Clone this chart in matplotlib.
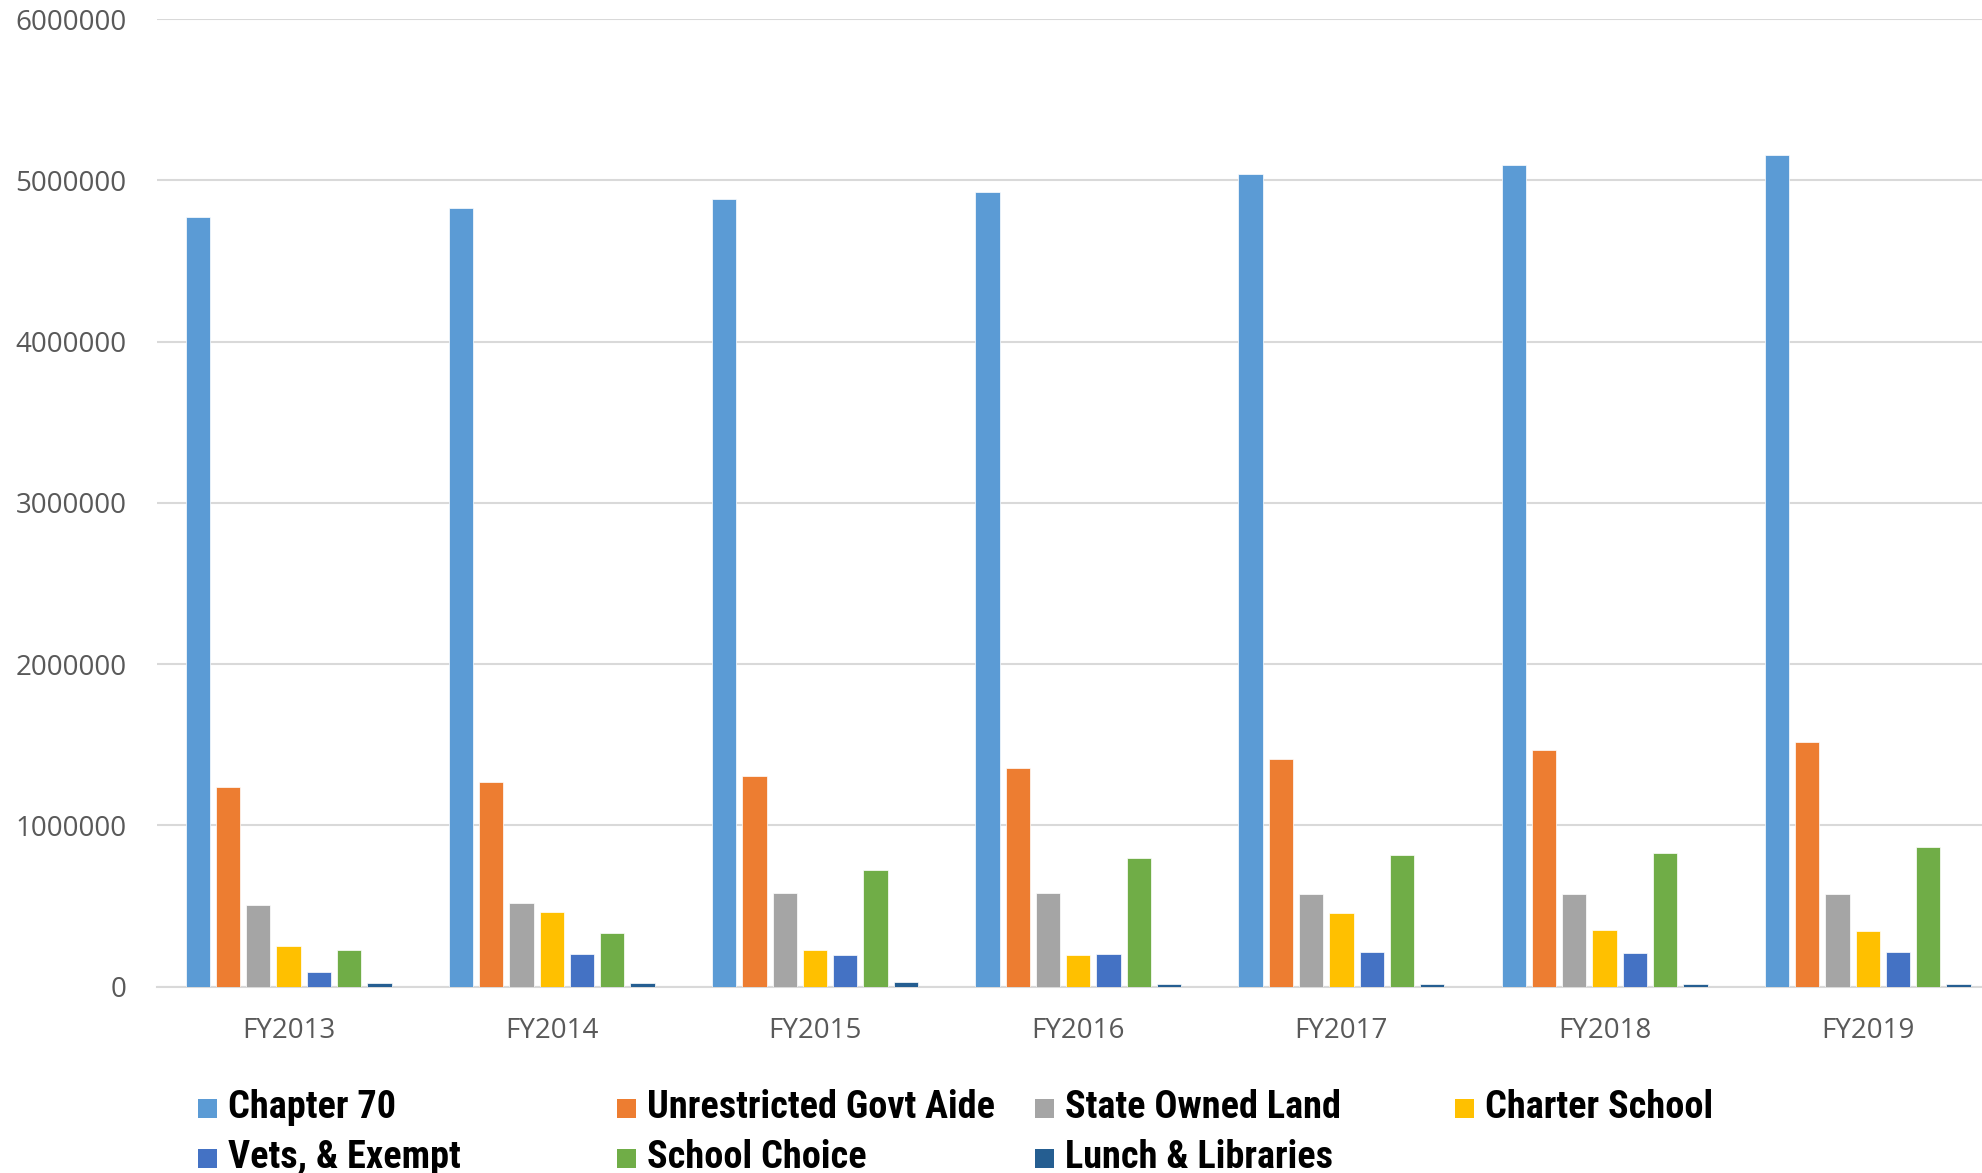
import matplotlib.pyplot as plt
from matplotlib.patches import Rectangle
from matplotlib.ticker import FixedLocator
import numpy as np

# Local aid received, by fiscal year and source
years = ['FY2013', 'FY2014', 'FY2015', 'FY2016', 'FY2017', 'FY2018', 'FY2019']
series_names = ['Chapter 70', 'Unrestricted Govt Aide', 'State Owned Land', 'Charter School',
                'Vets, & Exempt', 'School Choice', 'Lunch & Libraries']
chapter70 = [4772000, 4826000, 4882000, 4930000, 5038000, 5093000, 5156000]
unrestricted = [1241000, 1272000, 1305000, 1353000, 1411000, 1467000, 1519000]
state_land = [508000, 521000, 581000, 581000, 573000, 573000, 573000]
charter = [251000, 461000, 228000, 197000, 459000, 351000, 346000]
vets = [89000, 201000, 195000, 203000, 214000, 212000, 216000]
school_choice = [228000, 334000, 724000, 801000, 815000, 832000, 865000]
lunch = [23000, 23000, 29000, 17000, 17000, 17000, 17000]
y_ticks = [0, 1000000, 2000000, 3000000, 4000000, 5000000, 6000000]

colors = ['#5B9BD5', '#ED7D31', '#A5A5A5', '#FFC000', '#4472C4', '#70AD47', '#255E91']
all_series = [chapter70, unrestricted, state_land, charter, vets, school_choice, lunch]

W, H = 1982, 1173
fig = plt.figure(figsize=(W / 100, H / 100), dpi=100)
ax = fig.add_axes([157 / W, (H - 986.7) / H, 7 * 263.2 / W, 967.7 / H])

x = np.arange(len(years))
step = 0.115
width = 0.092
for i, (vals, c) in enumerate(zip(all_series, colors)):
    offs = (i - 3) * step
    ax.bar(x + offs, vals, width=width, color=c, edgecolor='white', linewidth=0.5, zorder=3)

ax.set_xlim(-0.5, len(years) - 0.5)
ax.set_ylim(0, 6000000)
ax.yaxis.set_major_locator(FixedLocator(y_ticks))
ax.set_yticklabels([str(v) for v in y_ticks])
ax.set_xticks(x)
ax.set_xticklabels(years)
ax.grid(axis='y', color='#D9D9D9', linewidth=1.5, zorder=0)
for s in ['top', 'right', 'left']:
    ax.spines[s].set_visible(False)
ax.spines['bottom'].set_color('#D9D9D9')
ax.spines['bottom'].set_linewidth(1.5)
ax.tick_params(axis='both', length=0, labelsize=20, labelcolor='#595959')
ax.tick_params(axis='y', pad=22)
ax.tick_params(axis='x', pad=22)
for lab in ax.get_xticklabels() + ax.get_yticklabels():
    lab.set_family('Open Sans')

# legend laid out in four evenly spaced columns under the plot
col_x = [198, 617, 1035, 1455]
row_y = [1108, 1158]
box = 19
for i, (name, c) in enumerate(zip(series_names, colors)):
    cx = col_x[i % 4]
    cy = row_y[i // 4]
    fig.add_artist(Rectangle((cx / W, (H - cy - box / 2) / H), box / W, box / H,
                             transform=fig.transFigure, facecolor=c, edgecolor='none'))
    fig.text((cx + 30) / W, (H - cy) / H, name, fontsize=27.5, fontweight='bold',
             family=['Roboto Condensed', 'Roboto'], color='black',
             ha='left', va='center')

fig.savefig('out.png', dpi=100)
